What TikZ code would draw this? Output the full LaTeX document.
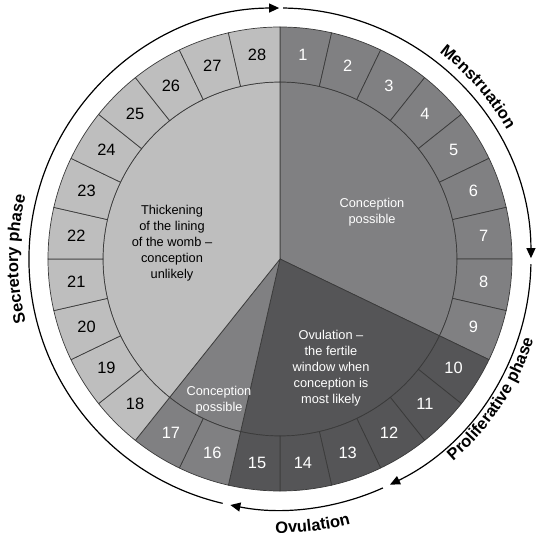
\documentclass[tikz,border=0pt]{standalone}
\usepackage{fontspec}
\setmainfont{Liberation Sans}
\usetikzlibrary{arrows.meta,decorations.text}
\definecolor{lightgrey}{HTML}{BEBEBE}
\definecolor{midgrey}{HTML}{808082}
\definecolor{darkgrey}{HTML}{555557}
\definecolor{edgegrey}{HTML}{3A3A3A}
\newcommand\phasefont{\fontsize{16.5}{19}\selectfont\bfseries}

\begin{document}
\begin{tikzpicture}[>={Triangle[length=10pt,width=9pt]},
    seg/.style={draw=edgegrey, line width=0.7pt},
    daynum/.style={font=\fontsize{16.4}{19}\selectfont},
    inner/.style={align=center, font=\fontsize{12.8}{16}\selectfont},
    phase/.style={line width=1.2pt, ->},
    phaselabel/.style={decorate, decoration={text along path, text align=center, text={|\phasefont|#1}}}]
    \useasboundingbox (-280pt,-274pt) rectangle (259pt,259pt);

    % Inner sectors
    \coordinate (c) at (0,0);
    \foreach \a/\b/\col in {90/-25.714/midgrey, -25.714/-102.857/darkgrey, -102.857/-128.571/midgrey, -128.571/-270/lightgrey}
        \filldraw[seg, fill=\col] (c) -- (\a:177pt) arc[start angle=\a, end angle=\b, radius=177pt] -- cycle;

    % Days of the cycle
    \foreach \first/\last/\col/\txt in {1/9/midgrey/white, 10/15/darkgrey/white, 16/17/midgrey/white, 18/28/lightgrey/black}
        \foreach \d in {\first,...,\last} {
            \pgfmathsetmacro\a{90-(\d-1)*360/28}
            \pgfmathsetmacro\b{90-\d*360/28}
            \pgfmathsetmacro\m{90-(\d-0.5)*360/28}
            \filldraw[seg, fill=\col] (\a:177pt) arc[start angle=\a, end angle=\b, radius=177pt]
                -- (\b:232pt) arc[start angle=\b, end angle=\a, radius=232pt] -- cycle;
            \node[daynum, text=\txt] (d\d) at (\m:205pt) {\d};
        }

    % Sector texts
    \node[inner, text=white] (cp1) at (92pt,47pt) {Conception\\possible};
    \node[inner] (womb) at (-108pt,16pt) {Thickening\\of the lining\\of the womb –\\conception\\unlikely};
    \node[inner, text=white] (ovul) at (51pt,-109pt) {Ovulation –\\the fertile\\window when\\conception is\\most likely};
    \node[inner, text=white] (cp2) at (-61pt,-141pt) {Conception\\possible};

    % Phase arrows
    \coordinate (mens) at (89.3:251pt);
    \coordinate (prol) at (-1.2:251pt);
    \coordinate (ovu) at (-65.8:251pt);
    \coordinate (secr) at (-103.2:251pt);
    \draw[phase] (mens) arc[start angle=89.3, end angle=0.2, radius=251pt];
    \draw[phase] (prol) arc[start angle=-1.2, end angle=-64, radius=251pt];
    \draw[phase] (ovu) arc[start angle=-65.8, end angle=-101.4, radius=251pt];
    \draw[phase] (secr) arc[start angle=256.8, end angle=90.2, radius=251pt];

    % Phase labels
    \path[phaselabel=Menstruation] (76:261pt) arc[start angle=76, end angle=6, radius=261pt];
    \path[phaselabel=Proliferative phase] (-63.5:266pt) arc[start angle=-63.5, end angle=-3.5, radius=266pt];
    \path[phaselabel=Ovulation] (-113:274pt) arc[start angle=-113, end angle=-53, radius=274pt];
    \path[phaselabel=Secretory phase] (215:262pt) arc[start angle=215, end angle=145, radius=262pt];
\end{tikzpicture}
\end{document}
